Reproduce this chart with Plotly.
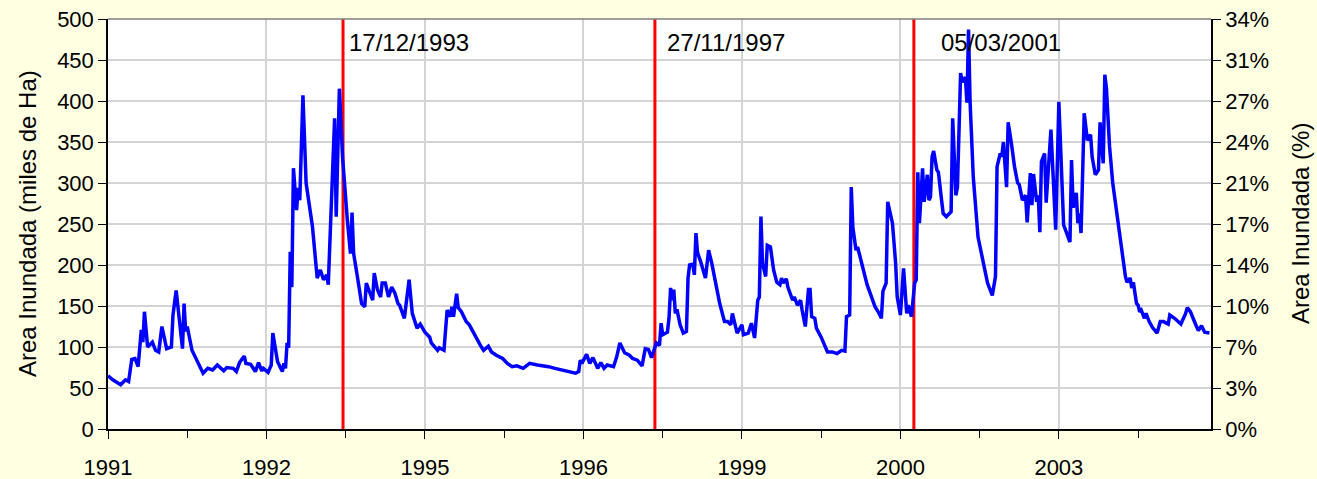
import plotly.graph_objects as go

# ---- data (x in axis units: major tick every 100 units) ----
x_pos = [0, 3, 8, 11, 13, 15, 17, 19, 21, 22, 23, 25, 28, 30, 32, 34, 37, 40, 41, 43,
         47, 48, 49, 50, 53, 56, 60, 63, 66, 69, 73, 75, 79, 81, 83, 86, 87, 90, 93, 95,
         97, 98, 101, 103, 104, 107, 110, 111, 112, 113, 114, 115, 116, 117, 119, 120, 121, 123, 125, 129,
         132, 134, 136, 138, 139, 143, 144, 146, 148, 151, 153, 154, 155, 158, 160, 162, 163, 167, 168, 170,
         172, 173, 175, 177, 179, 181, 183, 184, 187, 190, 192, 195, 197, 200, 203, 204, 208, 209, 212, 214,
         216, 217, 218, 220, 221, 223, 226, 228, 232, 235, 237, 240, 242, 245, 249, 252, 255, 258, 262, 266,
         271, 275, 278, 282, 286, 290, 295, 297, 298, 299, 302, 304, 306, 309, 311, 313, 315, 319, 321, 323, 326,
         329, 331, 334, 337, 339, 341, 343, 346, 348, 349, 350, 353, 354, 355, 356, 357, 358, 359, 361, 363,
         365, 366, 367, 369, 370, 371, 372, 374, 377, 379, 381, 386, 389, 391, 393, 394, 397, 400, 401, 404,
         406, 408, 410, 411, 412, 413, 415, 416, 418, 420, 422, 424, 425, 426, 428, 429, 432, 433, 435, 437,
         438, 440, 442, 443, 444, 446, 447, 450, 454, 457, 460, 463, 465, 466, 468, 469, 470, 472, 473, 476,
         479, 482, 484, 486, 488, 489, 491, 492, 495, 497, 498, 500, 502, 504, 505, 507, 509, 510, 511, 512,
         514, 515, 517, 518, 519, 520, 521, 523, 524, 526, 527, 529, 532, 533, 535, 536, 538, 539, 541, 542,
         543, 544, 546, 549, 551, 553, 555, 558, 560, 561, 563, 564, 565, 567, 568, 570, 572, 574, 575, 577,
         579, 580, 582, 583, 584, 586, 587, 588, 589, 591, 592, 595, 598, 600, 603, 607, 608, 609, 611, 612,
         613, 614, 616, 618, 620, 621, 623, 625, 626, 628, 629, 630, 632, 634, 637, 638, 640, 642, 643, 645,
         646, 647, 649, 650, 651, 652, 654, 655, 657, 659, 662, 664, 666, 669, 670, 673, 677, 680, 681, 683,
         686, 688, 690, 692, 695]

area = [65, 60, 54, 60, 58, 85, 86, 76, 121, 106, 143, 100, 106, 96, 94, 125, 98, 100, 139, 169,
        98, 153, 119, 125, 96, 84, 68, 74, 72, 78, 71, 75, 74, 70, 81, 89, 80, 79, 70, 81,
        71, 74, 69, 78, 117, 82, 70, 80, 74, 105, 99, 216, 173, 318, 267, 294, 279, 407, 300, 247,
        184, 194, 182, 188, 176, 379, 259, 415, 332, 255, 214, 264, 214, 178, 153, 149, 178, 157, 190, 170,
        161, 178, 178, 161, 173, 166, 153, 151, 135, 182, 141, 123, 128, 118, 112, 105, 96, 99, 96, 145,
        137, 149, 137, 165, 148, 143, 131, 127, 112, 102, 96, 101, 94, 90, 86, 80, 76, 77, 74, 80,
        78, 77, 76, 74, 72, 70, 68, 70, 84, 80, 91, 80, 87, 74, 81, 74, 78, 76, 88, 105, 93,
        90, 86, 84, 77, 98, 97, 87, 105, 102, 129, 115, 118, 135, 172, 157, 170, 141, 146, 127, 117,
        119, 184, 200, 201, 188, 239, 215, 204, 184, 218, 202, 153, 131, 131, 127, 141, 117, 127, 115, 117,
        129, 111, 157, 161, 259, 202, 186, 224, 222, 194, 179, 176, 184, 178, 183, 173, 157, 161, 151, 157,
        145, 125, 170, 170, 137, 135, 123, 112, 94, 94, 92, 96, 95, 137, 139, 295, 246, 218, 222, 198,
        176, 160, 149, 143, 135, 168, 178, 277, 251, 202, 161, 139, 196, 141, 151, 137, 178, 182, 313, 251,
        318, 277, 310, 279, 283, 332, 339, 316, 313, 279, 263, 259, 265, 379, 285, 295, 434, 423, 429, 398,
        487, 398, 307, 234, 214, 198, 178, 163, 186, 320, 336, 332, 350, 295, 374, 349, 320, 300, 298, 279,
        285, 252, 312, 273, 311, 277, 285, 240, 326, 336, 276, 365, 243, 399, 249, 228, 328, 270, 288, 251,
        263, 239, 385, 352, 359, 332, 310, 316, 374, 324, 432, 416, 344, 300, 255, 239, 214, 186, 179, 184,
        172, 179, 153, 151, 143, 145, 135, 141, 131, 124, 117, 131, 131, 128, 139, 135, 128, 141, 148, 143,
        129, 120, 126, 118, 117]

tick_vals = [0, 100, 200, 300, 400, 500, 600]
tick_text = ["1991", "1992", "1995", "1996", "1999", "2000", "2003"]
minor_vals = [50, 150, 250, 350, 450, 550, 650]

left_ticks = [0, 50, 100, 150, 200, 250, 300, 350, 400, 450, 500]
right_text = ["0%", "3%", "7%", "10%", "14%", "17%", "21%", "24%", "27%", "31%", "34%"]

event_x = [148.3, 345.1, 508.5]
event_labels = ["17/12/1993", "27/11/1997", "05/03/2001"]
event_label_x = [150.9, 351.6, 524.3]
event_label_y = 471

FONT = "Liberation Sans, Arial, sans-serif"
BG = "#FFFFE1"

fig = go.Figure()

for ex in event_x:
    fig.add_trace(go.Scatter(x=[ex, ex], y=[0, 500], mode="lines",
                             line=dict(color="#FF0000", width=3),
                             showlegend=False, hoverinfo="skip"))

fig.add_trace(go.Scatter(x=x_pos, y=area, mode="lines",
                         line=dict(color="#0000FF", width=3.5),
                         showlegend=False, name="Area Inundada"))

# invisible trace to activate the right-hand axis
fig.add_trace(go.Scatter(x=[None], y=[None], yaxis="y2", showlegend=False,
                         hoverinfo="skip"))

for lx, lab in zip(event_label_x, event_labels):
    fig.add_annotation(x=lx, y=event_label_y, text=lab, showarrow=False,
                       xanchor="left", yanchor="middle",
                       font=dict(family=FONT, size=24, color="black"))

fig.add_annotation(xref="paper", yref="paper", x=-0.0734, y=0.5,
                   text="Area Inundada (miles de Ha)", textangle=-90, showarrow=False,
                   xanchor="center", yanchor="middle",
                   font=dict(family=FONT, size=24, color="black"))
fig.add_annotation(xref="paper", yref="paper", x=1.0807, y=0.5,
                   text="Area Inundada (%)", textangle=-90, showarrow=False,
                   xanchor="center", yanchor="middle",
                   font=dict(family=FONT, size=24, color="black"))

# top border of plot area
fig.add_shape(type="line", xref="paper", yref="paper", x0=0, x1=1, y0=1, y1=1,
              line=dict(color="#7F7F7F", width=1.5))

fig.update_layout(
    width=1317, height=479,
    margin=dict(l=108, r=106, t=19, b=50, autoexpand=False),
    paper_bgcolor=BG, plot_bgcolor="white",
    font=dict(family=FONT, size=22, color="black"),
    xaxis=dict(range=[0, 696], tickvals=tick_vals, ticktext=tick_text,
               ticks="outside", ticklen=8, tickwidth=1, tickcolor="black",
               showline=True, linecolor="black", linewidth=1.5,
               showgrid=True, gridcolor="#D4D4D4", gridwidth=1.5, zeroline=False,
               ticklabelstandoff=10, automargin=False,
               minor=dict(tickvals=minor_vals, ticks="outside", ticklen=7,
                          tickcolor="black", tickwidth=1, showgrid=False),
               tickfont=dict(size=22)),
    yaxis=dict(range=[0, 500], tickvals=left_ticks, automargin=False,
               ticks="outside", ticklen=8, tickwidth=1, tickcolor="black",
               showline=True, linecolor="black", linewidth=1.5,
               showgrid=True, gridcolor="#D4D4D4", gridwidth=1.5, zeroline=False,
               tickfont=dict(size=22)),
    yaxis2=dict(range=[0, 500], overlaying="y", side="right", automargin=False,
                tickvals=left_ticks, ticktext=right_text,
                ticks="outside", ticklen=8, tickwidth=1, tickcolor="black",
                showline=True, linecolor="black", linewidth=1.5,
                showgrid=False, zeroline=False, tickfont=dict(size=22)),
)

fig.write_html("out.html", config={"displayModeBar": False},
               post_script="document.body.style.margin='0';document.body.style.overflow='hidden';")
